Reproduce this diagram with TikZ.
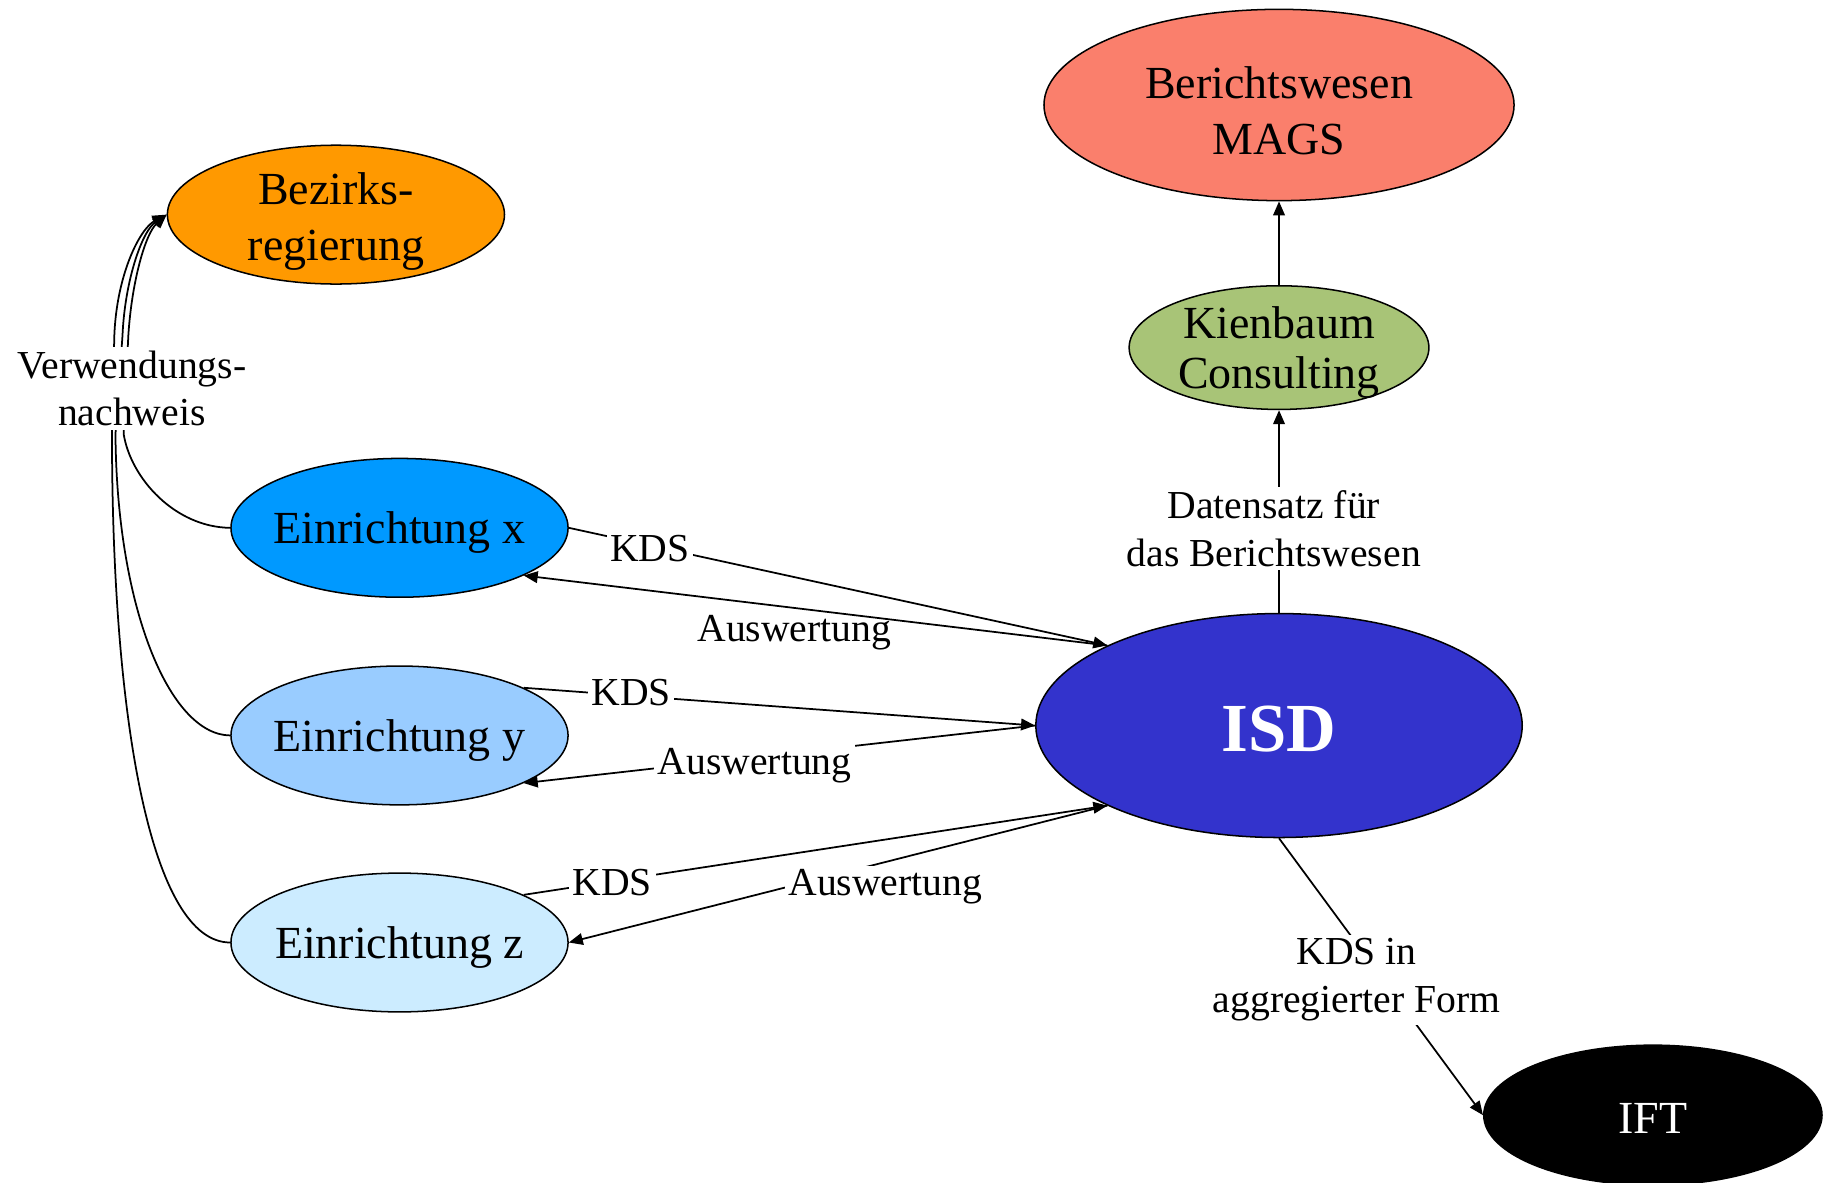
\documentclass[tikz,border=0pt]{standalone}
\usepackage{fontspec}
\setmainfont{Liberation Serif}
\usetikzlibrary{shapes.geometric,arrows.meta}
\definecolor{cbez}{HTML}{FF9900}
\definecolor{cex}{HTML}{0099FF}
\definecolor{cey}{HTML}{99CCFF}
\definecolor{cez}{HTML}{CCECFF}
\definecolor{cber}{HTML}{FA7F6C}
\definecolor{ckb}{HTML}{A8C477}
\definecolor{cisd}{HTML}{3333CC}
\tikzset{
  ell/.style={ellipse, draw=black, line width=1.3pt, inner sep=0pt},
  ntext/.style={font=\fontsize{39.4}{48}\selectfont, align=center, inner sep=0pt},
  elab/.style={font=\fontsize{34}{41}\selectfont, align=center, fill=white, inner sep=3pt},
  conn/.style={line width=1.5pt},
  arr/.style={conn, -{Triangle[length=12pt,width=10pt]}},
}
\begin{document}
\begin{tikzpicture}[x=1pt,y=-1pt]
\useasboundingbox (0,0) rectangle (1568,1014);
% nodes
\node[ell, fill=cbez, minimum width=289pt, minimum height=119pt] (bez) at (288,184) {};
\node[ntext] (bezt) at (288,190) {Bezirks-\\regierung};
\node[ell, fill=cex, minimum width=289pt, minimum height=119pt] (ex) at (342.5,452.5) {};
\node[ntext] (ext) at (342.5,456.5) {Einrichtung x};
\node[ell, fill=cey, minimum width=289pt, minimum height=119pt] (ey) at (342.5,630.5) {};
\node[ntext] (eyt) at (342.5,634.5) {Einrichtung y};
\node[ell, fill=cez, minimum width=289pt, minimum height=119pt] (ez) at (342.5,808) {};
\node[ntext] (ezt) at (342.5,812) {Einrichtung z};
\node[ell, fill=cber, minimum width=403pt, minimum height=164pt] (ber) at (1096.5,90) {};
\node[ntext] (bert) at (1096.5,95) {Berichtswesen\\MAGS};
\node[ell, fill=ckb, minimum width=257pt, minimum height=106pt] (kb) at (1096.5,298) {};
\node[ntext, font=\fontsize{39.4}{43}\selectfont] (kbt) at (1096.5,302) {Kienbaum\\Consulting};
\node[ell, fill=cisd, minimum width=417pt, minimum height=192pt] (isd) at (1096.5,622) {};
\node[ntext, font=\fontsize{59}{66}\selectfont\bfseries, text=white] (isdt) at (1096.5,625) {ISD};
\node[ell, fill=black, minimum width=290pt, minimum height=120pt] (ift) at (1417,956) {};
\node[ntext, text=white] (iftt) at (1417,959) {IFT};
% Verwendungsnachweis edges
\draw[arr] (ex.west) .. controls (150,452) and (112,410) .. (106,372) -- (110,288) .. controls (113,240) and (125,200) .. (bez.west);
\draw[arr] (ey.west) .. controls (145,630) and (100,520) .. (99,372) -- (105,288) .. controls (107,240) and (122,198) .. (bez.west);
\draw[arr] (ez.west) .. controls (130,808) and (96,620) .. (96,372) -- (98,288) .. controls (100,235) and (120,196) .. (bez.west);
\node[elab, fill=white] (lver) at (113,333) {Verwendungs-\\nachweis};
% KDS / Auswertung
\draw[arr] (ex.east) -- (isd.155);
\node[elab] (lkx) at (557,470) {KDS};
\node[elab] (lax) at (681,542) {Auswertung};
\draw[arr] (isd.155) -- (ex.-21.7);
\draw[arr] (ey.21.7) -- (isd.west);
\draw[arr] (isd.west) -- (ey.-21.7);
\node[elab] (lky) at (541,594) {KDS};
\node[elab] (lay) at (647,656) {Auswertung};
\draw[arr] (ez.21.7) -- (isd.205);
\draw[arr] (isd.205) -- (ez.east);
\node[elab] (lkz) at (525,757) {KDS};
\node[elab] (laz) at (759,760) {Auswertung};
% right column
\draw[arr] (isd.north) -- (kb.south);
\node[elab] (ldat) at (1092,453) {Datensatz für\\das Berichtswesen};
\draw[arr] (kb.north) -- (ber.south);
\draw[arr] (isd.south) -- (ift.west);
\node[elab] (lagg) at (1163,840) {KDS in\\aggregierter Form};
\end{tikzpicture}
\end{document}
